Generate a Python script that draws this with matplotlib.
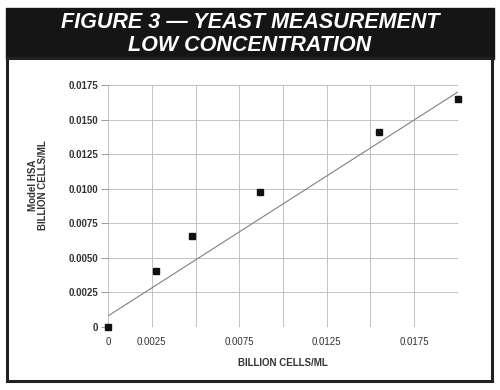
import matplotlib.pyplot as plt
from matplotlib.patches import Rectangle
import numpy as np

# 측정 데이터 (billion cells/ml)
reference_conc = [0.0, 0.00275, 0.00482, 0.00866, 0.01546, 0.02]
hsa_conc = [0.0, 0.00407, 0.0066, 0.00973, 0.01409, 0.01647]

# 추세선 (기울기, 절편)
trend_slope = 0.81
trend_intercept = 0.0008

x_ticks = [0, 0.0025, 0.0075, 0.0125, 0.0175]
x_tick_labels = ['0', '0.0025', '0.0075', '0.0125', '0.0175']
y_ticks = [0, 0.0025, 0.005, 0.0075, 0.01, 0.0125, 0.015, 0.0175]
y_tick_labels = ['0', '0.0025', '0.0050', '0.0075', '0.0100', '0.0125', '0.0150', '0.0175']

plt.rcParams['font.family'] = ['Liberation Sans', 'DejaVu Sans']

fig = plt.figure(figsize=(5.0, 3.9), dpi=100)

# 제목 배너와 테두리
fig.patches.append(Rectangle((0.011, 0.848), 0.976, 0.132, transform=fig.transFigure,
                             facecolor='#151515', edgecolor='#151515', zorder=-2))
fig.patches.append(Rectangle((0.014, 0.022), 0.97, 0.83, transform=fig.transFigure,
                             facecolor='white', edgecolor='#222222', linewidth=2.2, zorder=-1))
fig.text(0.5, 0.943, 'FIGURE 3 \u2014 YEAST MEASUREMENT', color='white', fontsize=15.5,
         fontweight='bold', fontstyle='italic', ha='center', va='center')
fig.text(0.5, 0.884, 'LOW CONCENTRATION', color='white', fontsize=15.5,
         fontweight='bold', fontstyle='italic', ha='center', va='center')

ax = fig.add_axes([0.216, 0.1615, 0.7, 0.6205])
ax.set_zorder(2)
ax.patch.set_alpha(0)
ax.set_xlim(0, 0.02)
ax.set_ylim(0, 0.0175)

# 격자선
for gx in np.arange(0, 0.02001, 0.0025):
    ax.axvline(gx, color='#c2c2c2', linewidth=0.7, zorder=1)
for gy in y_ticks:
    ax.axhline(gy, color='#c2c2c2', linewidth=0.7, zorder=1)

xs = np.array([0, 0.02])
ax.plot(xs, trend_intercept + trend_slope * xs, color='#808080', linewidth=0.8, zorder=2)
ax.plot(reference_conc, hsa_conc, 's', color='#111111', markersize=5, zorder=3, clip_on=False)

for s in ax.spines.values():
    s.set_visible(False)

ax.set_xticks(x_ticks)
ax.set_xticklabels(x_tick_labels, fontsize=7, color='#333333')
ax.set_yticks(y_ticks)
ax.set_yticklabels(y_tick_labels, fontsize=7, fontweight='bold', color='#333333')
ax.tick_params(axis='x', length=0, pad=7)
ax.tick_params(axis='y', length=5, width=0.7, color='#999999', pad=2)

ax.set_xlabel('BILLION CELLS/ML', fontsize=7, fontweight='bold', color='#333333', labelpad=8)
fig.text(0.067, 0.525, 'Model HSA', rotation=90, fontsize=7, fontweight='bold',
         color='#333333', ha='center', va='center')
fig.text(0.086, 0.525, 'BILLION CELLS/ML', rotation=90, fontsize=7, fontweight='bold',
         color='#333333', ha='center', va='center')

plt.savefig('out.png', dpi=100)
